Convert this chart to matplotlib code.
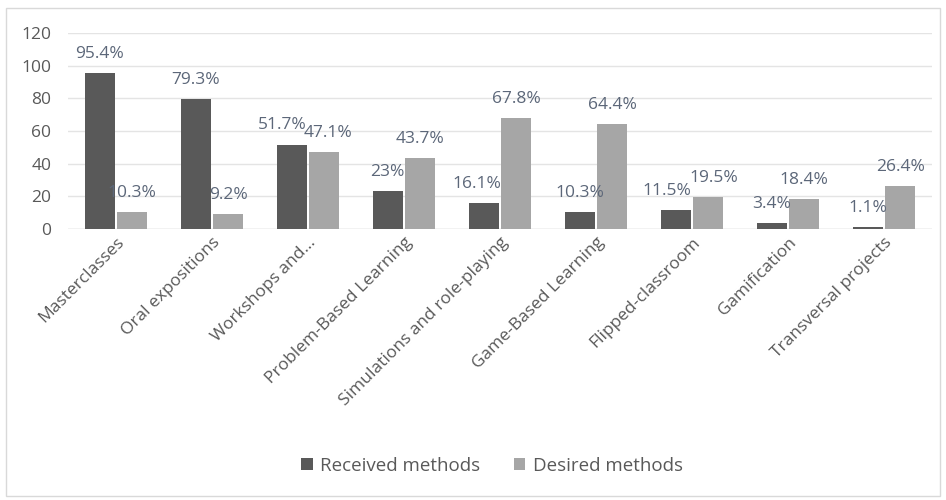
import matplotlib
matplotlib.use("Agg")
import matplotlib.pyplot as plt
import numpy as np
from matplotlib.patches import Rectangle

categories = ["Masterclasses", "Oral expositions", "Workshops and\u2026",
              "Problem-Based Learning", "Simulations and role-playing",
              "Game-Based Learning", "Flipped-classroom", "Gamification",
              "Transversal projects"]
received = [95.4, 79.3, 51.7, 23, 16.1, 10.3, 11.5, 3.4, 1.1]
desired = [10.3, 9.2, 47.1, 43.7, 67.8, 64.4, 19.5, 18.4, 26.4]
received_labels = ["95.4%", "79.3%", "51.7%", "23%", "16.1%", "10.3%", "11.5%", "3.4%", "1.1%"]
desired_labels = ["10.3%", "9.2%", "47.1%", "43.7%", "67.8%", "64.4%", "19.5%", "18.4%", "26.4%"]

plt.rcParams['font.family'] = ['Open Sans', 'DejaVu Sans']

fig = plt.figure(figsize=(9.46, 5.0), dpi=100)
ax = fig.add_axes([68 / 946, 1 - 229 / 500, 864 / 946, 196 / 500])

x = np.arange(len(categories))
w = 0.31
gap = 0.03
dark = '#595959'
light = '#a6a6a6'
label_color = '#5c6779'

b1 = ax.bar(x - (w + gap) / 2, received, w, color=dark, label="Received methods", zorder=3)
b2 = ax.bar(x + (w + gap) / 2, desired, w, color=light, label="Desired methods", zorder=3)

# small horizontal nudges (points) so neighbouring labels don't collide
nudge_recv = {2: -7, 4: -5, 6: -6}
nudge_des = {2: 3, 6: 4}

for bars, labels, nudge in ((b1, received_labels, nudge_recv), (b2, desired_labels, nudge_des)):
    for i, (bar, lab) in enumerate(zip(bars, labels)):
        ax.annotate(lab, (bar.get_x() + bar.get_width() / 2, bar.get_height()),
                    xytext=(nudge.get(i, 0), 8), textcoords='offset points', ha='center', va='bottom',
                    fontsize=12.5, color=label_color)

ax.set_ylim(0, 120)
ax.set_yticks(range(0, 121, 20))
ax.set_xlim(-0.5, len(categories) - 0.5)
ax.grid(axis='y', color='#e4e4e4', linewidth=1, zorder=0)
ax.tick_params(axis='both', length=0, labelsize=12.5, colors='#595959')
ax.tick_params(axis='y', pad=12)
ax.tick_params(axis='x', pad=4)
ax.set_xticks(x)
ax.set_xticklabels(categories, rotation=45, ha='right', rotation_mode='anchor')
for spine in ax.spines.values():
    spine.set_visible(False)
ax.axhline(0, color='#d9d9d9', linewidth=1, zorder=2)

fig.legend(loc='center', bbox_to_anchor=(492 / 946, 1 - 466 / 500), ncol=2, frameon=False,
           fontsize=13.5, handlelength=0.6, handleheight=0.6, handletextpad=0.4,
           columnspacing=1.8, labelcolor='#595959')

fig.patches.append(Rectangle((6 / 946, 4 / 500), 934 / 946, 488 / 500, transform=fig.transFigure,
                             fill=False, edgecolor='#d9d9d9', linewidth=1))

fig.savefig("out.png", dpi=100, facecolor='white')
